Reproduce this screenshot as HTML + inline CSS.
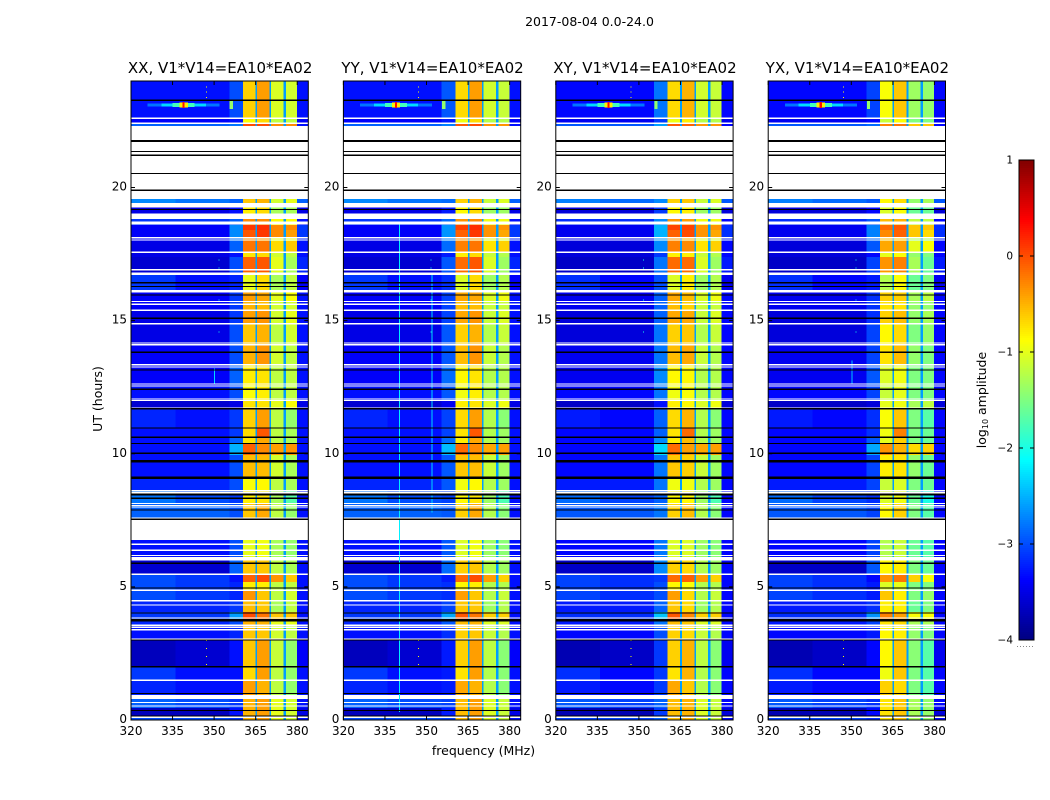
<!DOCTYPE html>
<html lang="en">
<head>
<meta charset="utf-8">
<title>2017-08-04 0.0-24.0</title>
<style>
html,body{margin:0;padding:0;background:#fff;}
svg{display:block;}
text{font-family:"DejaVu Sans","Liberation Sans",sans-serif;fill:#000;}
</style>
</head>
<body>
<svg id="chart" xmlns="http://www.w3.org/2000/svg" width="1050" height="800" viewBox="0 0 1050 800">
<rect x="0" y="0" width="1050" height="800" fill="#fff"/>
<text x="589.5" y="26" font-size="12.5" text-anchor="middle">2017-08-04 0.0-24.0</text>
<text x="483.5" y="755" font-size="12.5" text-anchor="middle">frequency (MHz)</text>
<text x="102" y="399" font-size="12.5" text-anchor="middle" transform="rotate(-90 102 399)">UT (hours)</text>
<text x="986" y="400" font-size="12.5" text-anchor="middle" transform="rotate(-90 986 400)">log<tspan font-size="8" dy="2">10</tspan><tspan dy="-2"> amplitude</tspan></text>
<g id="panels"></g>
<g id="colorbar"></g>
</svg>
<script>
// ---- chart data ----
const panelTitles = ["XX, V1*V14=EA10*EA02","YY, V1*V14=EA10*EA02","XY, V1*V14=EA10*EA02","YX, V1*V14=EA10*EA02"];
const freqTicks = [320,335,350,365,380];
const utTicks = [0,5,10,15,20];
const colorbarTicks = [1,0,-1,-2,-3,-4];
const freqEdges = [320,336,355.5,360.4,364.9,365.5,370,370.6,375,375.9,379.9,384];
const columnSeries = ["bgA","bgB","edge","b1","gap","b2","gap","b3","gap","b4","right"];
const gapLevel = -2.6;
const rowEdges = [24.00,22.61,22.42,22.31,19.57,19.42,19.25,19.02,18.81,18.60,18.40,18.14,17.99,17.54,17.39,16.83,16.72,16.08,15.70,15.40,14.87,14.12,13.33,12.58,12.02,11.72,10.97,10.63,10.37,9.95,9.13,8.60,8.11,7.53,6.76,6.12,6.00,5.45,5.18,4.88,4.47,4.06,3.76,3.53,3.00,1.99,1.50,0.94,0.79,0.45,0.15,0];
const bgA  = [-3.0,-3.1,-2.6,null,-2.4,null,-3.2,null,-2.8,-3.1,-3.1,-3.1,-3.2,-3.2,-3.3,-3.2,-2.8,-3.1,-3.1,-3.2,-3.2,-3.1,-3.1,-3,-3.3,-2.9,-3,-3,-3,-3,-2.9,-2.5,-2.6,null,-3,null,-3.3,-2.7,-2.7,-2.7,-2.9,-2.8,-2.9,-3,-3.4,-2.8,-2.9,null,-2.6,-3.4,-2.7];
const bgB  = [-3.0,-3.1,-2.6,null,-2.5,null,-3.2,null,-2.8,-3.1,-3.1,-3.1,-3.2,-3.2,-3.3,-3.2,-3.0,-3.1,-3.1,-3.2,-3.2,-3.1,-3.1,-3,-3.3,-3.0,-3,-3,-3,-3,-2.9,-2.7,-2.6,null,-3,null,-3.3,-2.8,-2.8,-2.8,-2.9,-2.8,-2.9,-3,-3.3,-3.0,-3.0,null,-2.7,-3.4,-2.7];
const edge = [-2.7,-3.0,-2.5,null,-2.6,null,-3.0,null,-2.6,-2.4,-2.4,-2.5,-2.6,-3.0,-2.7,-2.8,-2.9,-2.8,-2.8,-2.8,-2.7,-2.7,-2.6,-2.7,-3.2,-2.8,-2.8,-2.6,-2.2,-2.7,-2.7,-2.8,-2.7,null,-2.7,null,-2.6,-3.0,-2.9,-2.9,-2.8,-2.3,-2.7,-2.9,-3.0,-3.0,-3.0,null,-2.8,-3.0,-2.8];
const b1   = [-.65,-.9,0,null,-.6,null,-.8,null,-.3,.1,-.05,-.3,-.2,-.75,-.1,-.4,-1,-.4,-.5,-.4,-.6,-.5,-.8,-.9,-.75,-.65,-.7,-.75,-.1,-.55,-.9,-.8,-.6,null,-1,null,-.6,-.1,-.8,-.35,-.55,0,-.5,-.6,-.6,-.7,-.4,null,-.5,-.5,-.5];
const b2   = [-.4,-.7,0,null,-.5,null,-.7,null,-.3,.15,.1,-.4,-.2,-.7,-.05,-.4,-.7,-.45,-.55,-.35,-.5,-.35,-.75,-.8,-.75,-.4,-.05,-.45,-.3,-.55,-.85,-.75,-.45,null,-.95,null,-.6,0,-.8,-.6,-.6,-.2,-.5,-.6,-.4,-.4,-.5,null,-.4,-.4,-.4];
const b3   = [-1.05,-1.2,-.3,null,-1.1,null,-1.3,null,-.9,-.3,-.3,-1,-.7,-1.1,-1,-1.1,-1.3,-1,-1.1,-1.1,-1.2,-1.1,-1.2,-1.2,-1,-1.2,-1.2,-1.2,-.4,-1.1,-1.2,-1.3,-1.2,null,-1.3,null,-1.2,-.35,-1.2,-1.2,-1.3,-.6,-1,-1.1,-1.15,-1.2,-1.2,null,-1,-1,-1];
const b4   = [-1.1,-1.2,-.3,null,-1,null,-1.3,null,-.9,-.3,-.4,-1,-.6,-1.2,-1.3,-1.3,-1.2,-.9,-1.1,-1,-1.1,-1.2,-1.2,-1.2,-.9,-1.4,-1.3,-1.3,-.35,-1.3,-1.3,-1.7,-1.4,null,-1.4,null,-1.3,-.6,-1.2,-1.1,-1.2,-.6,-1,-1.2,-1.4,-1.4,-1.4,null,-1.1,-1.1,-1.1];
const right= [-3.0,-3.1,-3,null,-2.6,null,-3.2,null,-3,-2.8,-2.8,-2.9,-3,-3,-2.9,-2.9,-3.1,-3,-3,-3,-3,-3,-3,-3,-3.2,-3,-3,-3,-3,-3,-3,-3,-3,null,-3,null,-3,-3,-3,-3,-3,-3,-3,-3,-3.1,-3,-3,null,-3,-3.2,-3];
// per-polarisation level offsets
const offsetBg   = [-.3,-.3,-.35,-.35];
const offsetEdge = [-.3,-.25,-.1,-.35];
const offsetB1   = [0,-.05,-.05,-.25];
const offsetB2   = [0,0,-.1,-.2];
const offsetB3   = [0,-.05,-.05,-.3];
const offsetB4   = [0,-.05,-.05,-.3];
// flagged / missing samples (hours UT)
const whiteLines = [22.60,22.42,18.70,18.64,18.12,18.03,17.57,16.91,16.79,16.74,16.12,16.08,15.72,15.62,15.39,14.89,14.16,14.10,13.35,13.26,12.62,12.55,12.06,12.00,11.72,8.61,8.54,8.13,8.06,8.00,7.58,6.60,6.38,6.18,5.48,4.88,4.48,4.32,3.83,3.56,3.48,3.39,3.03,1.49,0.66,0.53,0.10];
const blackLines = [23.28,21.77,21.74,21.35,21.21,20.53,19.90,19.17,16.42,16.28,15.96,15.09,13.81,13.15,12.42,11.69,10.97,10.62,10.39,10.02,9.74,9.69,9.12,9.07,8.49,8.45,8.33,7.89,7.54,5.89,4.96,4.02,3.78,3.73,3.00,2.00,0.99,0.36,0.15];
// bright source near 339 MHz
const sourceUT = 23.10;
const sourceLow = [326,331,335,337.5,338.6];
const sourceHigh = [352,347,343,340.5,339.4];
const sourceLevel = [-2.8,-2.3,-1.8,-.8,.3];
const sourceHalfHours = [.06,.05,.07,.09,.12];
const hotFreqLow = 355.6;
const hotFreqHigh = 356.8;
const hotLevel = -1.4;
// narrow-band interference
const rfiPanel = [1,1,0,3];
const rfiFreq = [340,351.8,350,350];
const rfiLow = [0.3,7.8,12.6,12.6];
const rfiHigh = [18.7,16.8,13.2,13.5];
const rfiLevel = [-2.2,-2.3,-2.3,-2.4];
const dotFreqA = 347;
const dotUTA = [2.1,2.4,2.7,3.0,23.4,23.6,23.8];
const dotLevelA = -.9;
const dotFreqB = 351.5;
const dotUTB = [14.1,14.6,15.8,17.0,17.3,17.6];
const dotLevelB = -2;

// ---- layout ----
const NS = "http://www.w3.org/2000/svg";
const plotLeft = 131, plotStep = 212.4, plotWidth = 177.3, plotTop = 81, plotBottom = 720;
const freqMin = 320, freqMax = 384, utMin = 0, utMax = 24;
const cbLeft = 1019, cbRight = 1034, cbTop = 160, cbBottom = 640, levelMin = -4, levelMax = 1;

function xScale(panel, f){ return plotLeft + panel*plotStep + (f-freqMin)/(freqMax-freqMin)*plotWidth; }
function yScale(t){ return plotBottom - (t-utMin)/(utMax-utMin)*(plotBottom-plotTop); }
function cbScale(v){ return cbBottom - (v-levelMin)/(levelMax-levelMin)*(cbBottom-cbTop); }
function clip01(a){ return Math.max(0, Math.min(1, a)); }
function jet(v){
  const t = clip01((v-levelMin)/(levelMax-levelMin));
  const r = clip01(Math.min(4*t-1.5, -4*t+4.5));
  const g = clip01(Math.min(4*t-0.5, -4*t+3.5));
  const b = clip01(Math.min(4*t+0.5, -4*t+2.5));
  return "rgb("+Math.round(r*255)+","+Math.round(g*255)+","+Math.round(b*255)+")";
}
function make(tag, parent, attrs){
  const e = document.createElementNS(NS, tag);
  for (const k in attrs) e.setAttribute(k, attrs[k]);
  parent.appendChild(e);
  return e;
}
function seriesLevel(name, r, p){
  if (name === "gap") return bgA[r] === null ? null : gapLevel;
  const table = {bgA:bgA,bgB:bgB,edge:edge,b1:b1,b2:b2,b3:b3,b4:b4,right:right};
  const off = {bgA:offsetBg,bgB:offsetBg,edge:offsetEdge,b1:offsetB1,b2:offsetB2,b3:offsetB3,b4:offsetB4,right:offsetBg};
  const v = table[name][r];
  if (v === null || v === undefined) return null;
  return v + off[name][p];
}

const panelsRoot = document.getElementById("panels");
panelTitles.forEach(function(title, p){
  const g = make("g", panelsRoot, {});
  
  

  // heatmap cells
  const cells = make("g", g, {"shape-rendering":"crispEdges"});
  
  
  for (let r = 0; r < rowEdges.length-1; r++){
    for (let c = 0; c < columnSeries.length; c++){
      const v = seriesLevel(columnSeries[c], r, p);
      if (v === null) continue;
      const x0 = xScale(p, freqEdges[c]), x1 = xScale(p, freqEdges[c+1]);
      const y0 = yScale(rowEdges[r]), y1 = yScale(rowEdges[r+1]);
      const cell = make("rect", cells, {x:x0, y:y0, width:x1-x0, height:y1-y0, fill:jet(v)});
      
      
    }
  }

  // bright source
  sourceLow.forEach(function(lo, i){
    const x0 = xScale(p, lo), x1 = xScale(p, sourceHigh[i]);
    const y0 = yScale(sourceUT + sourceHalfHours[i]), y1 = yScale(sourceUT - sourceHalfHours[i]);
    const s = make("rect", cells, {x:x0, y:y0, width:x1-x0, height:y1-y0, fill:jet(sourceLevel[i])});
    
    
  });
  const hot = make("rect", cells, {x:xScale(p,hotFreqLow), y:yScale(sourceUT+.15), width:xScale(p,hotFreqHigh)-xScale(p,hotFreqLow), height:yScale(sourceUT-.15)-yScale(sourceUT+.15), fill:jet(hotLevel)});
  
  

  // interference
  rfiFreq.forEach(function(f, i){
    if (rfiPanel[i] !== p) return;
    const l = make("rect", cells, {x:xScale(p,f), y:yScale(rfiHigh[i]), width:1, height:yScale(rfiLow[i])-yScale(rfiHigh[i]), fill:jet(rfiLevel[i])});
    
    
  });
  dotUTA.forEach(function(t){
    const d = make("rect", cells, {x:xScale(p,dotFreqA), y:yScale(t), width:1, height:1, fill:jet(dotLevelA)});
    
    
  });
  dotUTB.forEach(function(t){
    const d = make("rect", cells, {x:xScale(p,dotFreqB), y:yScale(t), width:1, height:1, fill:jet(dotLevelB)});
    
    
  });

  // flagged rows
  whiteLines.forEach(function(t){
    const l = make("rect", cells, {x:xScale(p,freqMin), y:yScale(t)-0.6, width:plotWidth, height:1.3, fill:"#fff"});
    
    
  });
  blackLines.forEach(function(t){
    const l = make("rect", cells, {x:xScale(p,freqMin), y:yScale(t)-0.6, width:plotWidth, height:1.2, fill:"#000"});
    
    
  });

  // frame
  const frame = make("rect", g, {x:xScale(p,freqMin), y:plotTop, width:plotWidth, height:plotBottom-plotTop, fill:"none", stroke:"#000", "stroke-width":1});
  
  

  // x ticks
  freqTicks.forEach(function(f){
    const x = xScale(p, f);
    const t1 = make("line", g, {x1:x, x2:x, y1:plotBottom, y2:plotBottom-4, stroke:"#000", "stroke-width":1});
    
    
    const t2 = make("line", g, {x1:x, x2:x, y1:plotTop, y2:plotTop+4, stroke:"#000", "stroke-width":1});
    
    
    const lab = make("text", g, {x:x, y:plotBottom+15, "font-size":12, "text-anchor":"middle"});
    lab.textContent = f;
    
    
  });

  // y ticks
  utTicks.forEach(function(t){
    const y = yScale(t);
    const xl = xScale(p,freqMin), xr = xScale(p,freqMax);
    const t1 = make("line", g, {x1:xl, x2:xl+4, y1:y, y2:y, stroke:"#000", "stroke-width":1});
    
    
    const t2 = make("line", g, {x1:xr-4, x2:xr, y1:y, y2:y, stroke:"#000", "stroke-width":1});
    
    
    const lab = make("text", g, {x:xl-4, y:y+3, "font-size":12, "text-anchor":"end"});
    lab.textContent = t;
    
    
  });

  const ttl = make("text", g, {x:xScale(p,freqMin)+plotWidth/2+0.5, y:73, "font-size":15, "text-anchor":"middle"});
  ttl.textContent = title;
  
  
});

// ---- colorbar ----
const cb = document.getElementById("colorbar");
const ramp = make("g", cb, {"shape-rendering":"crispEdges"});


for (let y = cbTop; y < cbBottom; y += 2){
  const v = levelMax - (y+1-cbTop)/(cbBottom-cbTop)*(levelMax-levelMin);
  const s = make("rect", ramp, {x:cbLeft, y:y, width:cbRight-cbLeft, height:2, fill:jet(v)});
  
  
}
const cbFrame = make("rect", cb, {x:cbLeft, y:cbTop, width:cbRight-cbLeft, height:cbBottom-cbTop, fill:"none", stroke:"#000", "stroke-width":1});


colorbarTicks.forEach(function(v){
  const y = cbScale(v);
  const a = make("line", cb, {x1:cbLeft, x2:cbLeft+4, y1:y, y2:y, stroke:"#000", "stroke-width":1});
  
  
  const b = make("line", cb, {x1:cbRight-4, x2:cbRight, y1:y, y2:y, stroke:"#000", "stroke-width":1});
  
  
  const lab = make("text", cb, {x:cbLeft-6, y:y+3.5, "font-size":10.5, "text-anchor":"end"});
  lab.textContent = v < 0 ? "\u2212" + Math.abs(v) : String(v);
  
  
});
const cbDots = make("line", cb, {x1:cbLeft-2, x2:cbRight+1, y1:646.5, y2:646.5, stroke:"#888", "stroke-width":1, "stroke-dasharray":"1 2"});


</script>
</body>
</html>
